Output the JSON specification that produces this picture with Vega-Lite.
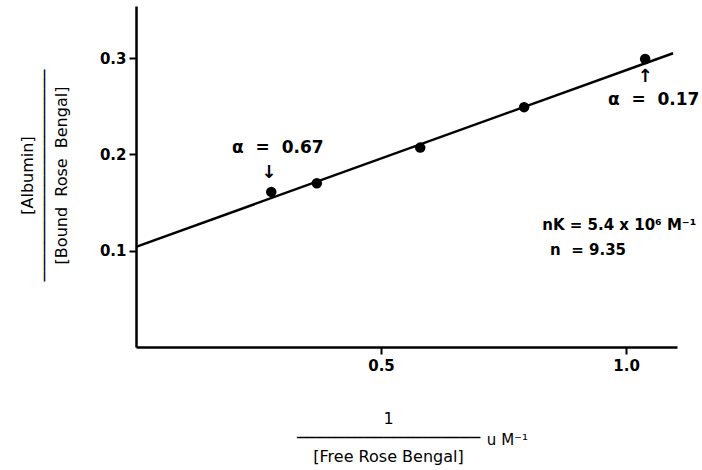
{
  "$schema": "https://vega.github.io/schema/vega-lite/v6.json",
  "width": 541,
  "height": 341,
  "autosize": {"type": "none"},
  "padding": {"left": 136, "top": 6, "right": 25, "bottom": 123},
  "background": "white",
  "config": {"view": {"stroke": null}, "font": "DejaVu Sans"},
  "datasets": {
    "points": [
      {"inv_free": 0.276, "ratio": 0.161},
      {"inv_free": 0.369, "ratio": 0.170},
      {"inv_free": 0.580, "ratio": 0.207},
      {"inv_free": 0.792, "ratio": 0.249},
      {"inv_free": 1.039, "ratio": 0.299}
    ],
    "fit": [
      {"inv_free": 0.0, "ratio": 0.104},
      {"inv_free": 1.096, "ratio": 0.305}
    ],
    "notes": [
      {"role": "label", "inv_free": 0.196, "ratio": 0.207, "text": "α\u00a0 =\u00a0 0.67"},
      {"role": "label", "inv_free": 0.963, "ratio": 0.256, "text": "α\u00a0 =\u00a0 0.17"},
      {"role": "arrow", "inv_free": 0.271, "ratio": 0.181, "text": "↓"},
      {"role": "arrow", "inv_free": 1.039, "ratio": 0.280, "text": "↑"},
      {"role": "stat", "inv_free": 0.829, "ratio": 0.127, "text": "nK = 5.4 x 10⁶ M⁻¹"},
      {"role": "stat", "inv_free": 0.845, "ratio": 0.101, "text": "n\u00a0\u00a0= 9.35"},
      {"role": "unit", "inv_free": 0.716, "ratio": -0.0966, "text": "u M⁻¹"}
    ]
  },
  "encoding": {
    "x": {
      "field": "inv_free",
      "type": "quantitative",
      "scale": {"domain": [0, 1.104], "nice": false, "zero": false},
      "axis": {
        "values": [0.5, 1.0],
        "format": ".1f",
        "grid": false,
        "domainColor": "black",
        "domainWidth": 2.5,
        "tickColor": "black",
        "tickWidth": 2,
        "tickSize": 7,
        "labelFont": "DejaVu Sans",
        "labelFontWeight": "bold",
        "labelFontSize": 15,
        "labelColor": "black",
        "labelPadding": 4,
        "title": ["1", "───────────────────", "[Free Rose Bengal]"],
        "titleFont": "DejaVu Sans",
        "titleFontWeight": "normal",
        "titleFontSize": 16,
        "titleLineHeight": 19,
        "titleColor": "black",
        "titleAlign": "center",
        "titleBaseline": "top",
        "titleX": 252,
        "titleY": 63
      }
    },
    "y": {
      "field": "ratio",
      "type": "quantitative",
      "scale": {"domain": [0, 0.354], "nice": false, "zero": false},
      "axis": {
        "values": [0.1, 0.2, 0.3],
        "format": ".1f",
        "grid": false,
        "domainColor": "black",
        "domainWidth": 2.5,
        "tickColor": "black",
        "tickWidth": 2,
        "tickSize": 7,
        "labelFont": "DejaVu Sans",
        "labelFontWeight": "bold",
        "labelFontSize": 15,
        "labelColor": "black",
        "labelPadding": 3,
        "title": ["[Albumin]", "──────────────────────", "[Bound\u00a0 Rose\u00a0 Bengal]"],
        "titleFont": "DejaVu Sans",
        "titleFontWeight": "normal",
        "titleFontSize": 16,
        "titleLineHeight": 17,
        "titleColor": "black",
        "titleAlign": "center",
        "titleBaseline": "top",
        "titleAngle": -90,
        "titleX": -117,
        "titleY": 169
      }
    }
  },
  "layer": [
    {
      "data": {"name": "fit"},
      "mark": {"type": "line", "color": "black", "strokeWidth": 2.5}
    },
    {
      "data": {"name": "points"},
      "mark": {"type": "point", "filled": true, "color": "black", "opacity": 1, "size": 110}
    },
    {
      "data": {"name": "notes"},
      "transform": [{"filter": "datum.role === 'label'"}],
      "mark": {"type": "text", "align": "left", "baseline": "middle", "font": "DejaVu Sans", "fontWeight": "bold", "fontSize": 17, "color": "black"},
      "encoding": {"text": {"field": "text"}}
    },
    {
      "data": {"name": "notes"},
      "transform": [{"filter": "datum.role === 'arrow'"}],
      "mark": {"type": "text", "align": "center", "baseline": "middle", "font": "DejaVu Sans", "fontWeight": "bold", "fontSize": 18, "color": "black"},
      "encoding": {"text": {"field": "text"}}
    },
    {
      "data": {"name": "notes"},
      "transform": [{"filter": "datum.role === 'stat'"}],
      "mark": {"type": "text", "align": "left", "baseline": "middle", "font": "DejaVu Sans", "fontWeight": "bold", "fontSize": 15, "color": "black"},
      "encoding": {"text": {"field": "text"}}
    },
    {
      "data": {"name": "notes"},
      "transform": [{"filter": "datum.role === 'unit'"}],
      "mark": {"type": "text", "align": "left", "baseline": "middle", "font": "DejaVu Sans", "fontSize": 15, "color": "black"},
      "encoding": {"text": {"field": "text"}}
    }
  ]
}
